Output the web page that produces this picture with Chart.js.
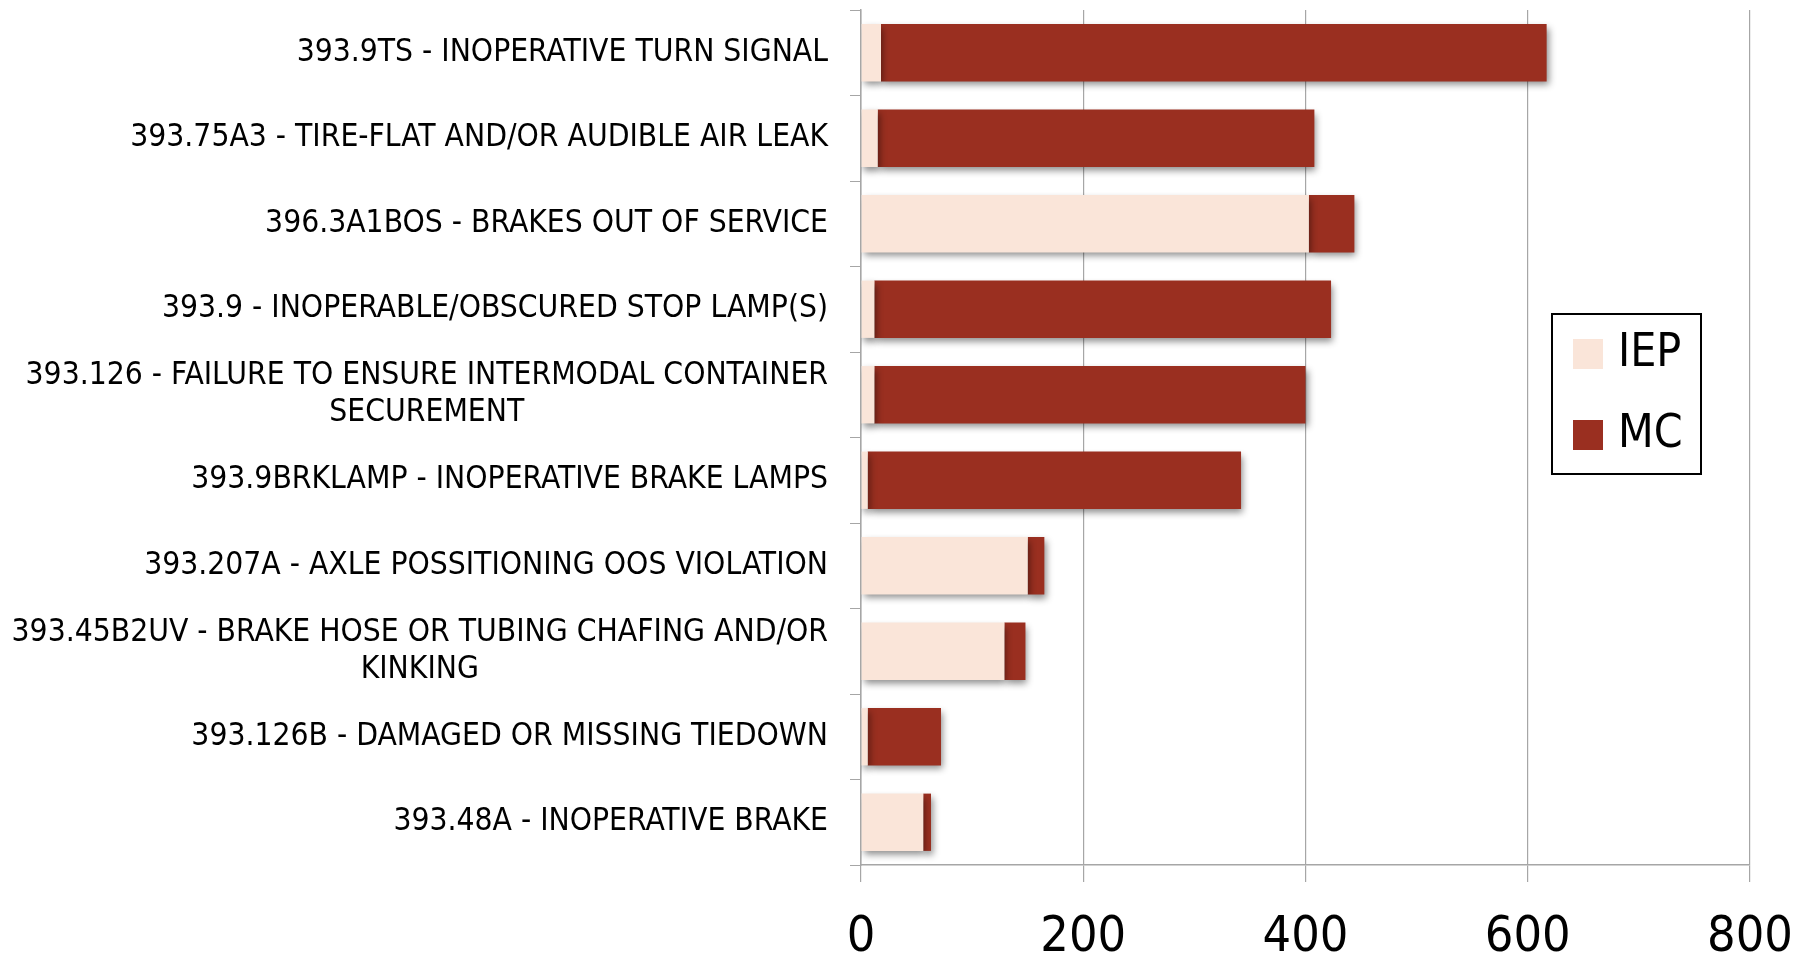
<!DOCTYPE html>
<html>
<head>
<meta charset="utf-8">
<script src="https://cdn.jsdelivr.net/npm/chart.js@4/dist/chart.umd.min.js"></script>
<style>
  html, body { margin: 0; padding: 0; background: #fff; }
  #wrap { width: 1798px; height: 956px; }
</style>
</head>
<body>
<div id="wrap"><canvas id="myChart" width="1798" height="956"></canvas></div>
<script>
// Sample data
const categories = [
    ['393.9TS - INOPERATIVE TURN SIGNAL'],
    ['393.75A3 - TIRE-FLAT AND/OR AUDIBLE AIR LEAK'],
    ['396.3A1BOS - BRAKES OUT OF SERVICE'],
    ['393.9 - INOPERABLE/OBSCURED STOP LAMP(S)'],
    ['393.126 - FAILURE TO ENSURE INTERMODAL CONTAINER', 'SECUREMENT'],
    ['393.9BRKLAMP - INOPERATIVE BRAKE LAMPS'],
    ['393.207A - AXLE POSSITIONING OOS VIOLATION'],
    ['393.45B2UV - BRAKE HOSE OR TUBING CHAFING AND/OR', 'KINKING'],
    ['393.126B - DAMAGED OR MISSING TIEDOWN'],
    ['393.48A - INOPERATIVE BRAKE']
];
const iepValues = [18, 15, 403, 12, 12, 6, 150, 129, 6, 56];
const mcValues = [599, 393, 41, 411, 388, 336, 15, 19, 66, 7];
const xTicks = [0, 200, 400, 600, 800];

const FONT = '"Liberation Sans Narrow", "DejaVu Sans Condensed", sans-serif';
const IEP_COLOR = '#fae5d9';
const MC_COLOR = '#9a2f20';

// shadow under bars
const barShadow = {
    id: 'barShadow',
    beforeDatasetsDraw(chart) {
        const ctx = chart.ctx;
        ctx.save();
        ctx.shadowColor = 'rgba(0,0,0,0.45)';
        ctx.shadowBlur = 7;
        ctx.shadowOffsetX = 2;
        ctx.shadowOffsetY = 4;
    },
    afterDatasetsDraw(chart) {
        chart.ctx.restore();
    }
};

// y labels: block right aligned, lines centred inside block
const catLabels = {
    id: 'catLabels',
    afterDraw(chart) {
        const ctx = chart.ctx;
        const y = chart.scales.y;
        ctx.save();
        ctx.font = '31.5px ' + FONT;
        ctx.fillStyle = '#000';
        ctx.textAlign = 'center';
        ctx.textBaseline = 'middle';
        const right = y.right - 33;
        const lh = 37;
        categories.forEach((lines, i) => {
            const cy = y.getPixelForTick(i);
            const w = Math.max(...lines.map(l => ctx.measureText(l).width));
            const cx = right - w / 2;
            lines.forEach((l, j) => {
                ctx.fillText(l, cx, cy + (j - (lines.length - 1) / 2) * lh);
            });
        });
        ctx.restore();
    }
};

// boxed legend inside the plot
const boxLegend = {
    id: 'boxLegend',
    afterDraw(chart) {
        const ctx = chart.ctx;
        const a = chart.chartArea;
        const bx = a.right - 198, by = a.top + 304, bw = 149, bh = 160;
        ctx.save();
        ctx.fillStyle = '#fff';
        ctx.fillRect(bx, by, bw, bh);
        ctx.strokeStyle = '#000';
        ctx.lineWidth = 2;
        ctx.strokeRect(bx, by, bw, bh);
        ctx.font = '46px ' + FONT;
        ctx.textBaseline = 'middle';
        chart.data.datasets.forEach((ds, i) => {
            const cy = by + 40 + i * 81;
            ctx.fillStyle = ds.backgroundColor;
            ctx.fillRect(bx + 21, cy - 15, 30, 30);
            ctx.fillStyle = '#000';
            ctx.fillText(ds.label, bx + 66, cy);
        });
        ctx.restore();
    }
};

const data = {
    labels: categories,
    datasets: [{
        label: 'IEP',
        backgroundColor: IEP_COLOR,
        data: iepValues,
        barPercentage: 0.67,
        categoryPercentage: 1
    }, {
        label: 'MC',
        backgroundColor: MC_COLOR,
        data: mcValues,
        barPercentage: 0.67,
        categoryPercentage: 1
    }]
};

const config = {
    type: 'bar',
    data: data,
    options: {
        indexAxis: 'y',
        responsive: false,
        animation: false,
        layout: { padding: { left: 0, top: 10, right: 48, bottom: 0 } },
        plugins: {
            legend: { display: false },
            tooltip: { enabled: false }
        },
        scales: {
            x: {
                stacked: true,
                min: 0,
                max: 800,
                afterBuildTicks(scale) {
                    scale.ticks = xTicks.map(v => ({ value: v }));
                },
                afterFit(scale) {
                    scale.height = 91;
                    scale.paddingLeft = 0;
                    scale.paddingRight = 0;
                },
                grid: {
                    color: '#a6a6a6',
                    lineWidth: 1.2,
                    tickLength: 17
                },
                border: { color: '#a6a6a6', width: 1.5 },
                ticks: {
                    color: '#000',
                    font: { family: FONT, size: 50 },
                    padding: 26,
                    maxRotation: 0
                }
            },
            y: {
                stacked: true,
                afterFit(scale) {
                    scale.width = 861;
                    scale.paddingTop = 0;
                    scale.paddingBottom = 0;
                },
                grid: {
                    display: true,
                    drawOnChartArea: false,
                    color: '#a6a6a6',
                    tickLength: 11,
                    offset: true
                },
                border: { color: '#a6a6a6', width: 1.5 },
                ticks: {
                    color: 'rgba(0,0,0,0)',
                    font: { family: FONT, size: 30 }
                }
            }
        }
    },
    plugins: [barShadow, catLabels, boxLegend]
};

// Render the chart
const myChart = new Chart(
    document.getElementById('myChart'),
    config
);
</script>
</body>
</html>
